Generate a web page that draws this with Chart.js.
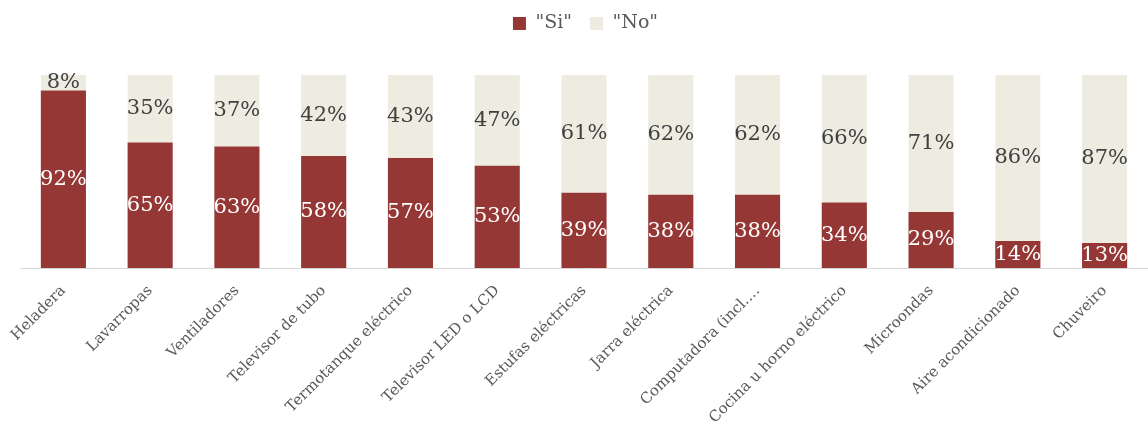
<!DOCTYPE html>
<html>
<head>
<meta charset="utf-8">
<script src="https://cdn.jsdelivr.net/npm/chart.js@4"></script>
<style>
  html, body { margin: 0; padding: 0; background: #ffffff; }
  #wrap { width: 1148px; height: 428px; position: relative; }
</style>
</head>
<body>
<div id="wrap"><canvas id="chart"></canvas></div>
<script>
// categories + the two stacked series (percent of households)
const categories = [
  'Heladera', 'Lavarropas', 'Ventiladores', 'Televisor de tubo',
  'Termotanque eléctrico', 'Televisor LED o LCD', 'Estufas eléctricas',
  'Jarra eléctrica', 'Computadora (incl.…', 'Cocina u horno eléctrico',
  'Microondas', 'Aire acondicionado', 'Chuveiro'
];
const siValues = [92, 65, 63, 58, 57, 53, 39, 38, 38, 34, 29, 14, 13];
const noValues = [8, 35, 37, 42, 43, 47, 61, 62, 62, 66, 71, 86, 87];
const seriesNames = ['"Si"', '"No"'];

const serif = '"DejaVu Serif", "Liberation Serif", serif';
const labelColors = ['#ffffff', '#404040'];

// draws the % text in the middle of every segment
const barLabels = {
  id: 'barLabels',
  afterDatasetsDraw(chart) {
    const ctx = chart.ctx;
    ctx.save();
    ctx.font = '21px ' + serif;
    ctx.textAlign = 'center';
    ctx.textBaseline = 'middle';
    chart.data.datasets.forEach((ds, i) => {
      chart.getDatasetMeta(i).data.forEach((bar, j) => {
        const p = bar.getProps(['x', 'y', 'base'], true);
        ctx.fillStyle = labelColors[i];
        ctx.fillText(ds.data[j] + '%', p.x, (p.y + p.base) / 2);
      });
    });
    ctx.restore();
  }
};

// keep the plot area starting at the same height as the original
const legendSpace = {
  id: 'legendSpace',
  beforeLayout(chart) {
    const lg = chart.legend;
    if (lg && !lg._patched) {
      const fit = lg.fit;
      lg.fit = function() {
        fit.call(this);
        this.height = 79;
      };
      lg._patched = true;
    }
  }
};

new Chart(document.getElementById('chart'), {
  type: 'bar',
  data: {
    labels: categories,
    datasets: [
      { label: seriesNames[0], data: siValues, backgroundColor: '#953735' },
      { label: seriesNames[1], data: noValues, backgroundColor: '#EEECE1' }
    ]
  },
  options: {
    responsive: true,
    maintainAspectRatio: false,
    animation: false,
    layout: { padding: { left: 20, right: -3, top: -4, bottom: 0 } },
    datasets: { bar: { categoryPercentage: 1, barPercentage: 0.52 } },
    scales: {
      x: {
        stacked: true,
        grid: { display: false },
        border: { display: true, color: '#D9D9D9', width: 1 },
        ticks: {
          autoSkip: false,
          maxRotation: 45,
          minRotation: 45,
          color: '#595959',
          font: { family: serif, size: 15 },
          padding: 6
        },
        afterFit: s => { s.height = 160; }
      },
      y: {
        stacked: true,
        display: false,
        min: 0,
        max: 100
      }
    },
    plugins: {
      legend: {
        position: 'top',
        labels: {
          boxWidth: 13,
          boxHeight: 13,
          padding: 18,
          color: '#595959',
          font: { family: serif, size: 19 }
        }
      },
      tooltip: { enabled: false }
    }
  },
  plugins: [barLabels, legendSpace]
});
</script>
</body>
</html>
